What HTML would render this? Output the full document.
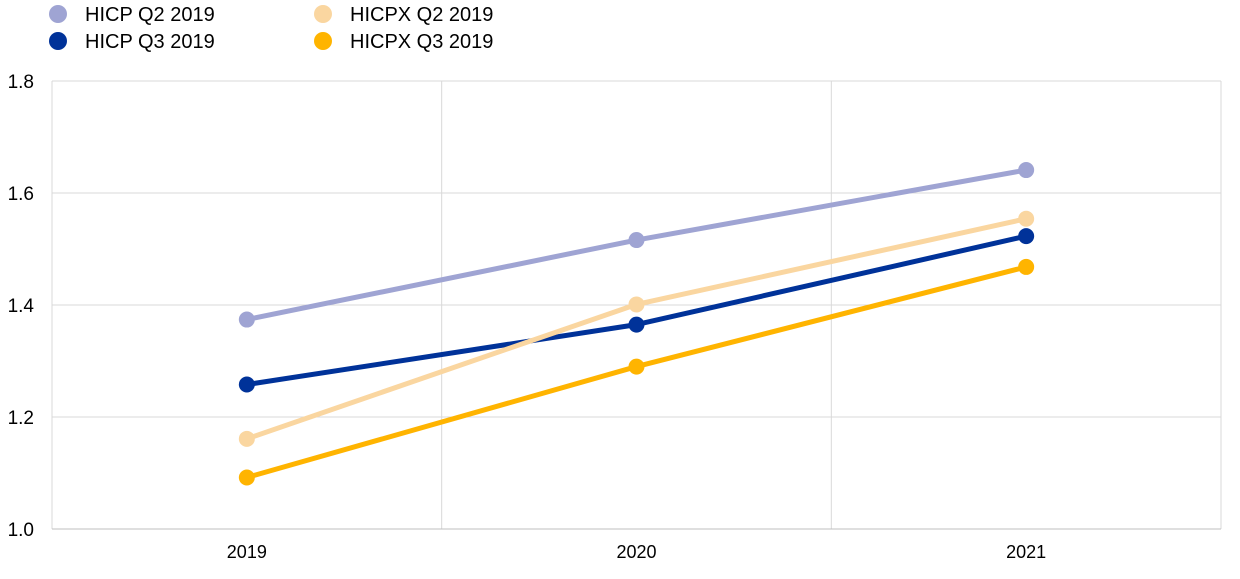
<!DOCTYPE html>
<html><head><meta charset="utf-8"><style>
body{margin:0;background:#fff;width:1240px;height:574px;overflow:hidden;font-family:"Liberation Sans",sans-serif}
svg text{font-family:"Liberation Sans",sans-serif;fill:#000}
</style></head><body>
<svg id="chart" width="1240" height="574" xmlns="http://www.w3.org/2000/svg"></svg>
<script>
const categories=["2019","2020","2021"];
const yTicks=[1.0,1.2,1.4,1.6,1.8];
const seriesNames=["HICP Q2 2019","HICP Q3 2019","HICPX Q2 2019","HICPX Q3 2019"];
const hicpQ2=[1.374,1.516,1.641];
const hicpQ3=[1.258,1.365,1.523];
const hicpxQ2=[1.161,1.401,1.554];
const hicpxQ3=[1.092,1.290,1.468];
const colors=["#9fa4d3","#003299","#fad6a0","#ffb400"];
const ns="http://www.w3.org/2000/svg";
const svg=document.getElementById("chart");
const L=52,R=1221,T=81,B=529,yMin=1.0,yMax=1.8;
const band=(R-L)/categories.length;
const x=i=>L+band*(i+0.5);
const y=v=>B-(v-yMin)/(yMax-yMin)*(B-T);
function mk(tag,attrs){const e=document.createElementNS(ns,tag);for(const k in attrs)e.setAttribute(k,attrs[k]);svg.appendChild(e);return e;}
yTicks.forEach(t=>{
 const g=mk("line",{x1:L,x2:R,y1:y(t),y2:y(t),stroke:"#d9d9d9","stroke-width":1});
 
 
 const tx=mk("text",{x:34,y:y(t)+7,"text-anchor":"end","font-size":19});
 tx.textContent=t.toFixed(1);
 
 
});
for(let i=0;i<=categories.length;i++){
 const g=mk("line",{x1:L+band*i,x2:L+band*i,y1:T,y2:B,stroke:"#d9d9d9","stroke-width":1});
 
 
}
categories.forEach((c,i)=>{
 const tx=mk("text",{x:x(i),y:558,"text-anchor":"middle","font-size":18});
 tx.textContent=c;
 
 
});
const ax=mk("line",{x1:L,x2:R,y1:B,y2:B,stroke:"#bfbfbf","stroke-width":1});


[hicpQ2,hicpQ3,hicpxQ2,hicpxQ3].forEach((s,si)=>{
 const p=mk("polyline",{points:s.map((v,i)=>x(i)+","+y(v)).join(" "),fill:"none",stroke:colors[si],"stroke-width":5});
 
 
 s.forEach((v,i)=>{
  const c=mk("circle",{cx:x(i),cy:y(v),r:8,fill:colors[si]});
  
  
 });
});
const legPos=[[58,14],[58,41],[323,14],[323,41]];
seriesNames.forEach((n,i)=>{
 const c=mk("circle",{cx:legPos[i][0],cy:legPos[i][1],r:9,fill:colors[i]});
 
 
 const t=mk("text",{x:legPos[i][0]+27,y:legPos[i][1]+7,"font-size":20});
 t.textContent=n;
 
 
});
</script>
</body></html>
